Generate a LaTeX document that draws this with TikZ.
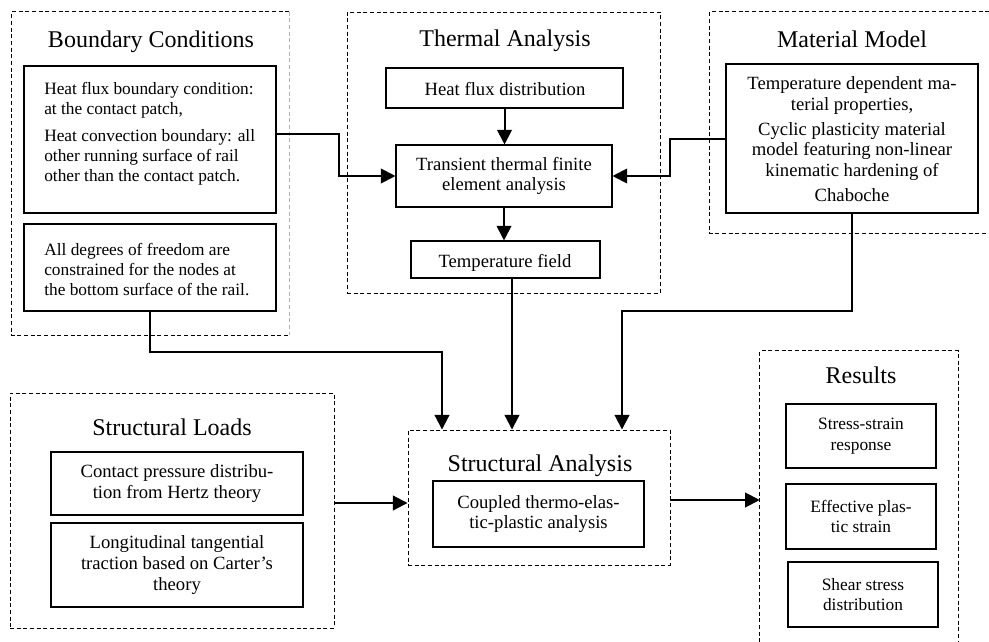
\documentclass[tikz,border=0pt]{standalone}
\usepackage{fontspec}
\setmainfont{Liberation Serif}
\usetikzlibrary{fit,arrows.meta}
\begin{document}
\begin{tikzpicture}[x=0.75pt,y=-0.75pt,
  box/.style={draw, line width=0.8pt, inner sep=0pt},
  boxtext/.style={inner sep=0pt, align=center, font=\fontsize{14}{15.5}\selectfont},
  smalltext/.style={boxtext, font=\fontsize{13}{15.5}\selectfont},
  btext/.style={inner sep=0pt, align=left, anchor=west, font=\fontsize{13}{15}\selectfont},
  frame/.style={inner sep=0pt},
  dashline/.style={line width=0.7pt, dash pattern=on 3pt off 2pt},
  title/.style={inner sep=0pt, anchor=base, font=\fontsize{18}{20}\selectfont},
  arr/.style={line width=1.5pt, -{Triangle[length=11pt,width=11pt]}}]
\useasboundingbox (0,0) rectangle (989,642);

% ---- frames ----
\node[frame, fit={(12,12)(289,335)}] (bcf) {};
\draw[dashline] (bcf.north east) -- (bcf.north west) -- (bcf.south west) -- (bcf.south east);
\draw[dashline, gray!60] (bcf.north east) -- (bcf.south east);

\node[frame, fit={(347,12)(660,293)}, draw, dashline] (taf) {};

\node[frame, fit={(710,12)(989,233)}] (mmf) {};
\draw[dashline] (mmf.north east) -- (mmf.north west) -- (mmf.south west) -- (mmf.south east);

\node[frame, fit={(10,393)(334,628)}, draw, dashline] (slf) {};
\node[frame, fit={(408,430)(670,565)}, draw, dashline] (saf) {};

\node[frame, fit={(760,351)(958,642)}] (resf) {};
\draw[dashline] (resf.south west) -- (resf.north west) -- (resf.north east) -- (resf.south east);

% ---- titles ----
\node[title] (bct) at (151,48) {Boundary Conditions};
\node[title] (tat) at (505,47) {Thermal Analysis};
\node[title] (mmt) at (852,48) {Material Model};
\node[title] (slt) at (172,435) {Structural Loads};
\node[title] (sat) at (540,471) {Structural Analysis};
\node[title] (rest) at (861,383) {Results};

% ---- boundary conditions ----
\node[box, fit={(24,66)(276,213)}] (bc1) {};
\node[btext] (bc1t) at (44,134) {Heat flux boundary condition:\\ at the contact patch,\\[5pt]Heat convection boundary: all\\ other running surface of rail\\ other than the contact patch.};
\node[box, fit={(24,224)(276,311)}] (bc2) {};
\node[btext] (bc2t) at (44,270) {All degrees of freedom are\\ constrained for the nodes at\\ the bottom surface of the rail.};

% ---- thermal analysis ----
\node[box, fit={(386,68)(623,108)}] (hf) {};
\node[boxtext] (hft) at (505,89) {Heat flux distribution};
\node[box, fit={(396,145)(612,207)}] (tr) {};
\node[boxtext] (trt) at (tr.center) {Transient thermal finite\\ element analysis};
\node[box, fit={(411,241)(600,278)}] (tf) {};
\node[boxtext] (tft) at (505,263) {Temperature field};

% ---- material model ----
\node[box, fit={(726,64)(978,213)}] (mmb) {};
\node[boxtext] (mmbt) at (852,139) {Temperature dependent ma-\\ terial properties,\\[3pt]Cyclic plasticity material\\ model featuring non-linear\\ kinematic hardening of\\[3pt]Chaboche};

% ---- structural loads ----
\node[box, fit={(51,452)(303,515)}] (cp) {};
\node[boxtext] (cpt) at (cp.center) {Contact pressure distribu-\\ tion from Hertz theory};
\node[box, fit={(51,523)(303,607)}] (lt) {};
\node[boxtext] (ltt) at (lt.center) {Longitudinal tangential\\ traction based on Carter's\\ theory};

% ---- structural analysis ----
\node[box, fit={(433,481)(644,547)}] (ctp) {};
\node[boxtext] (ctpt) at (ctp.center) {Coupled thermo-elas-\\ tic-plastic analysis};

% ---- results ----
\node[box, fit={(786,404)(936,468)}] (ss) {};
\node[smalltext] (sst) at (ss.center) {Stress-strain\\ response};
\node[box, fit={(786,484)(936,549)}] (eps) {};
\node[smalltext] (epst) at (eps.center) {Effective plas-\\ tic strain};
\node[box, fit={(788,562)(938,627)}] (shs) {};
\node[smalltext] (shst) at (shs.center) {Shear stress\\ distribution};

% ---- connectors ----
\draw[arr] (bc1.east |- 0,134) -- ++(62,0) |- (tr.west);
\draw[arr] (hf.south) -- (hf.south |- tr.north);
\draw[arr] (tr.south) -- (tr.south |- tf.north);
\draw[arr] (mmb.west |- 0,139) -- ++(-55,0) |- (tr.east);
\draw[arr] (tf.south -| 512,0) -- (saf.north -| 512,0);
\draw[arr] (mmb.south) -- ++(0,97) -| (saf.north -| 622,0);
\draw[arr] (bc2.south) -- ++(0,40) -| (saf.north -| 442,0);
\draw[arr] (slf.east |- 0,503) -- (saf.west |- 0,503);
\draw[arr] (saf.east |- 0,500) -- (resf.west |- 0,500);
\end{tikzpicture}
\end{document}
